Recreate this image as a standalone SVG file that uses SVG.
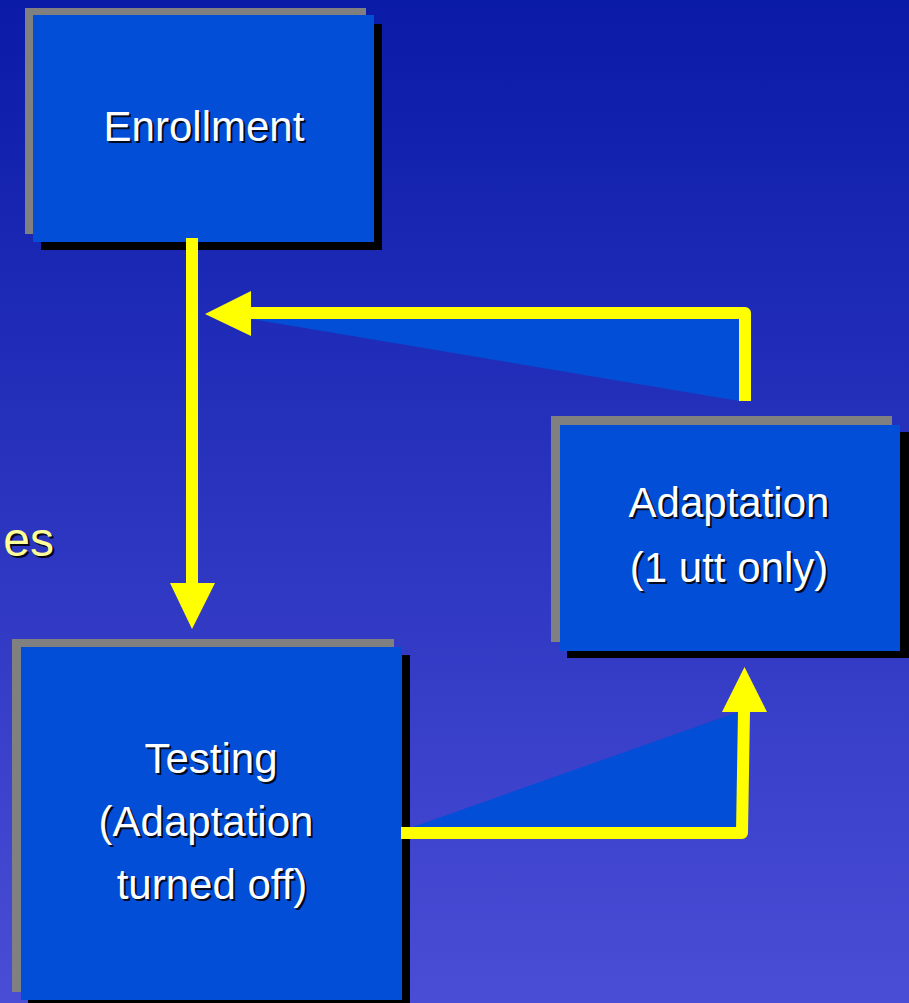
<svg xmlns="http://www.w3.org/2000/svg" width="909" height="1003" viewBox="0 0 909 1003">
<defs>
<linearGradient id="bg" x1="0" y1="0" x2="0" y2="1">
<stop offset="0" stop-color="#0A1BA7"/>
<stop offset="1" stop-color="#4A4DD6"/>
</linearGradient>
<style>
.gray{fill:#808080}
.box{fill:#034ED6}
.shadow{fill:#000}
.t{font-family:"Liberation Sans",Arial,sans-serif;font-size:42px;text-anchor:middle}
.tw{fill:#FFFFFF}
.ts{fill:#000000;opacity:0.85}
.line{fill:none;stroke:#FFFF00;stroke-width:12;stroke-linejoin:round}
.head{fill:#FFFF00}
.tri{fill:#034ED6}
</style>
</defs>
<rect x="0" y="0" width="909" height="1003" fill="url(#bg)"/>
<text x="56" y="558" class="t ts" style="text-anchor:end;font-size:48px">es</text>
<text x="54" y="556" class="t" style="text-anchor:end;font-size:48px;fill:#FFFF99">es</text>

<g id="enrollment">
<rect class="shadow" x="41" y="24" width="341" height="226"/>
<rect class="gray" x="25" y="8" width="341" height="226"/>
<rect class="box" x="33" y="15" width="341" height="227"/>
<text x="206" y="143" class="t ts">Enrollment</text>
<text x="204" y="141" class="t tw">Enrollment</text>
</g>

<g id="adaptation">
<rect class="shadow" x="567" y="432" width="342" height="226"/>
<rect class="gray" x="551" y="416" width="341" height="226"/>
<rect class="box" x="560" y="425" width="340" height="226"/>
<text x="731" y="519" class="t ts">Adaptation</text>
<text x="729" y="517" class="t tw">Adaptation</text>
<text x="731" y="584" class="t ts">(1 utt only)</text>
<text x="729" y="582" class="t tw">(1 utt only)</text>
</g>

<g id="testing">
<rect class="shadow" x="28" y="655" width="382" height="348"/>
<rect class="gray" x="12" y="639" width="382" height="353"/>
<rect class="box" x="21" y="647" width="381" height="353"/>
<text x="213" y="775" class="t ts">Testing</text>
<text x="211" y="773" class="t tw">Testing</text>
<text x="208" y="838" class="t ts">(Adaptation</text>
<text x="206" y="836" class="t tw">(Adaptation</text>
<text x="214" y="901" class="t ts">turned off)</text>
<text x="212" y="899" class="t tw">turned off)</text>
</g>

<g id="connectors">
<polygon class="tri" points="251,319 739,319 739,401"/>
<polygon class="tri" points="410,828 738,712 738,828"/>
<line class="line" x1="192" y1="238" x2="192" y2="584"/>
<polygon class="head" points="170,583 215,583 192,629"/>
<polyline class="line" points="745,401 745,313 250,313"/>
<polygon class="head" points="251,291 251,336 205,314"/>
<polyline class="line" points="401,833 742,833 744,711"/>
<polygon class="head" points="722,712 767,712 744.5,667"/>
</g>
</svg>
